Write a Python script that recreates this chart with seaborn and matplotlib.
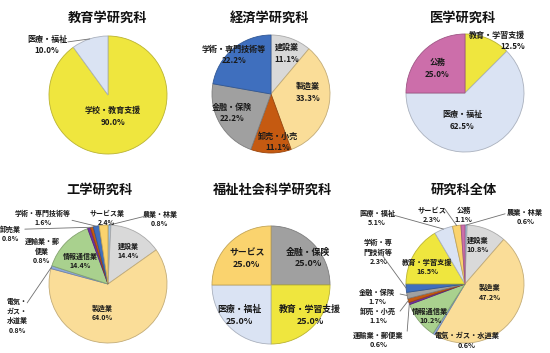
import numpy as np
import matplotlib
matplotlib.use("Agg")
import matplotlib.pyplot as plt
import seaborn as sns
from matplotlib.colors import to_rgb

sns.set_theme(style="white")
plt.rcParams['font.family'] = ['Noto Sans CJK JP', 'DejaVu Sans']

# ---------------- data ----------------
titles = ["教育学研究科", "経済学研究科", "医学研究科", "工学研究科", "福祉社会科学研究科", "研究科全体"]

edu_cats = ["学校・教育支援", "医療・福祉"]
edu_vals = [90.0, 10.0]

eco_cats = ["建設業", "製造業", "卸売・小売", "金融・保険", "学術・専門技術等"]
eco_vals = [11.1, 33.3, 11.1, 22.2, 22.2]

med_cats = ["教育・学習支援", "医療・福祉", "公務"]
med_vals = [12.5, 62.5, 25.0]

eng_cats = ["農業・林業", "建設業", "製造業", "電気・ガス・水道業", "情報通信業",
            "運輸業・郵便業", "卸売業", "学術・専門技術等", "サービス業"]
eng_vals = [0.8, 14.4, 64.0, 0.8, 14.4, 0.8, 0.8, 1.6, 2.4]

wel_cats = ["金融・保険", "教育・学習支援", "医療・福祉", "サービス"]
wel_vals = [25.0, 25.0, 25.0, 25.0]

all_cats = ["農業・林業", "建設業", "製造業", "電気・ガス・水道業", "情報通信業",
            "運輸業・郵便業", "卸売・小売", "金融・保険", "学術・専門技術等",
            "教育・学習支援", "医療・福祉", "サービス", "公務"]
all_vals = [0.6, 10.8, 47.2, 0.6, 10.2, 0.6, 1.1, 1.7, 2.3, 16.5, 5.1, 2.3, 1.1]

# display labels (line-wrapped as in the original)
edu_labels = ["学校・教育支援", "医療・福祉"]
eco_labels = ["建設業", "製造業", "卸売・小売", "金融・保険", "学術・専門技術等"]
med_labels = ["教育・学習支援", "医療・福祉", "公務"]
eng_labels = ["農業・林業", "建設業", "製造業", "電気・\nガス・\n水道業", "情報通信業",
              "運輸業・郵\n便業", "卸売業", "学術・専門技術等", "サービス業"]
wel_labels = ["金融・保険", "教育・学習支援", "医療・福祉", "サービス"]
all_labels = ["農業・林業", "建設業", "製造業", "電気・ガス・水道業", "情報通信業",
              "運輸業・郵便業", "卸売・小売", "金融・保険", "学術・専\n門技術等",
              "教育・学習支援", "医療・福祉", "サービス", "公務"]

# ---------------- style ----------------
palette = {
    "学校・教育支援": "#EFE63E", "教育・学習支援": "#EFE63E",
    "医療・福祉": "#DAE3F3", "建設業": "#D9D9D9", "製造業": "#FADD98",
    "卸売・小売": "#C55A11", "卸売業": "#C55A11", "金融・保険": "#A0A0A0",
    "学術・専門技術等": "#3F6FBE", "公務": "#CC6EAA", "農業・林業": "#9DC3E6",
    "電気・ガス・水道業": "#8FAADC", "情報通信業": "#A9D18E",
    "運輸業・郵便業": "#7030A0", "サービス業": "#FAD36E", "サービス": "#FAD36E",
}

W, H = 550, 353
R = 59
LIM = 1.05

fig = plt.figure(figsize=(W / 100, H / 100), dpi=100)
fig.patch.set_facecolor("white")


def darken(c, f=0.78):
    r, g, b = to_rgb(c)
    return (r * f, g * f, b * f)


def draw(title, cats, vals, labels, center, title_xy, pos, leaders, fs=5.8, ha=None):
    cx, cy = center
    s = R * LIM
    ax = fig.add_axes([(cx - s) / W, 1 - (cy + s) / H, 2 * s / W, 2 * s / H])
    cols = [palette[c] for c in cats]
    wedges, _ = ax.pie(vals, colors=cols, startangle=90, counterclock=False,
                       radius=1, wedgeprops=dict(linewidth=0.6))
    for w, c in zip(wedges, cols):
        w.set_edgecolor(darken(c))
    ax.set_xlim(-LIM, LIM)
    ax.set_ylim(-LIM, LIM)
    ax.set_aspect("equal")
    ax.axis("off")
    for j, (lx, ly) in leaders.items():
        w = wedges[j]
        th = np.deg2rad((w.theta1 + w.theta2) / 2)
        ax.plot([lx, np.cos(th)], [ly, np.sin(th)], color="#6f6f6f", lw=0.6,
                clip_on=False, zorder=5)
    for j, (lab, v) in enumerate(zip(labels, vals)):
        x, y = pos[j]
        h = "center" if ha is None or j not in ha else ha[j]
        ax.text(x, y, f"{lab}\n{v:.1f}%", ha=h, va="center", multialignment=h,
                fontsize=fs, fontweight="bold", linespacing=1.4,
                color="#1a1a1a", zorder=6, clip_on=False)
    fig.text(title_xy[0] / W, 1 - title_xy[1] / H, title, ha="center",
             va="center", fontsize=9.5, fontweight="bold", color="#111111")


draw(titles[0], edu_cats, edu_vals, edu_labels, (108, 95), (108, 18),
     [(0.085, -0.36), (-1.03, 0.85)], {1: (-0.68, 0.90)})

draw(titles[1], eco_cats, eco_vals, eco_labels, (271, 94), (270, 18),
     [(0.27, 0.69), (0.63, 0.03), (0.12, -0.81), (-0.66, -0.32), (-0.63, 0.66)], {})

draw(titles[2], med_cats, med_vals, med_labels, (465, 93), (463, 18),
     [(1.02, 0.88), (-0.05, -0.46), (-0.47, 0.42)], {}, ha={0: "right"})

draw(titles[3], eng_cats, eng_vals, eng_labels, (108, 284), (100, 190),
     [(0.88, 1.10), (0.34, 0.56), (-0.10, -0.49), (-1.54, -0.54), (-0.47, 0.39),
      (-1.12, 0.56), (-1.65, 0.85), (-1.10, 1.12), (-0.02, 1.12)],
     {0: (0.59, 1.14), 3: (-1.37, -0.32), 6: (-1.41, 0.93), 7: (-0.61, 1.08)},
     fs=5.0)

draw(titles[4], wel_cats, wel_vals, wel_labels, (271, 285), (272, 190),
     [(0.63, 0.46), (0.66, -0.51), (-0.54, -0.51), (-0.41, 0.45)], {}, fs=6.4)

draw(titles[5], all_cats, all_vals, all_labels, (465, 284), (464, 190),
     [(1.02, 1.14), (0.22, 0.66), (0.42, -0.14), (0.03, -0.95), (-0.59, -0.54),
      (-1.47, -0.95), (-1.47, -0.54), (-1.49, -0.22), (-1.47, 0.54),
      (-0.64, 0.29), (-1.49, 1.12), (-0.56, 1.17), (-0.02, 1.17)],
     {0: (0.68, 1.19), 5: (-0.98, -0.80), 6: (-1.10, -0.46), 7: (-1.10, -0.17),
      8: (-1.39, 0.47), 10: (-1.22, 1.17), 11: (-0.34, 1.27)},
     fs=5.2)

fig.savefig("out.png", dpi=100, facecolor="white")
